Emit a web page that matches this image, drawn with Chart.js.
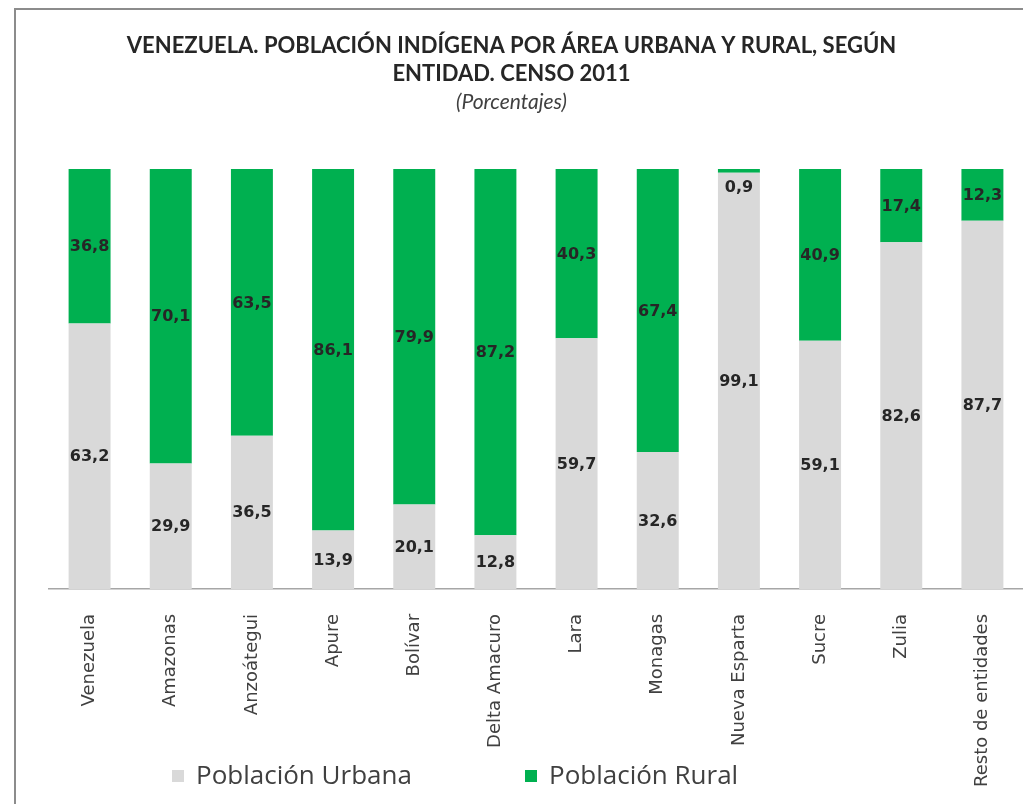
<!DOCTYPE html>
<html>
<head>
<meta charset="utf-8">
<script src="https://cdn.jsdelivr.net/npm/chart.js@4.4.0/dist/chart.umd.min.js"></script>
<style>
    body { margin: 0; background: #ffffff; }
    .frame { position: absolute; left: 14px; top: 8px; width: 1023px; height: 800px;
             border-left: 2px solid #8c8c8c; border-top: 2px solid #8c8c8c; }
    .wrap { position: absolute; left: 0; top: 0; width: 1023px; height: 804px; }
    .legend { position: absolute; top: 756px; left: 0; width: 1023px; height: 34px;
              font-family: "Open Sans", sans-serif; font-size: 26px; color: #404040; }
    .legend span.item { position: absolute; top: 0; white-space: nowrap; }
    .legend span.box { display: inline-block; width: 12px; height: 12px; margin-right: 12px;
                       vertical-align: 2px; }
</style>
</head>
<body>
<div class="frame"></div>
<div class="wrap"><canvas id="graph"></canvas></div>
<div class="legend" id="legend"></div>
<script>
// Chart data: percentage of indigenous population by area, per entity
const entidades = ["Venezuela", "Amazonas", "Anzoátegui", "Apure", "Bolívar", "Delta Amacuro",
    "Lara", "Monagas", "Nueva Esparta", "Sucre", "Zulia", "Resto de entidades"];
const urbana = [63.2, 29.9, 36.5, 13.9, 20.1, 12.8, 59.7, 32.6, 99.1, 59.1, 82.6, 87.7];
const rural = [36.8, 70.1, 63.5, 86.1, 79.9, 87.2, 40.3, 67.4, 0.9, 40.9, 17.4, 12.3];
const seriesNames = ["Población Urbana", "Población Rural"];
const seriesColors = ["#d9d9d9", "#00b050"];

// Writes the value in the middle of each bar segment
const valueLabels = {
    id: "valueLabels",
    afterDatasetsDraw(chart) {
        let ctx = chart.ctx;
        let area = chart.chartArea;
        ctx.save();
        ctx.font = "bold 16px 'DejaVu Sans'";
        ctx.fillStyle = "#262626";
        ctx.textAlign = "center";
        ctx.textBaseline = "middle";
        chart.data.datasets.forEach((ds, i) => {
            chart.getDatasetMeta(i).data.forEach((bar, j) => {
                let y = (bar.y + bar.base) / 2;
                // keep labels of very thin segments inside the plot
                if (y < area.top + 18) y = area.top + 18;
                ctx.fillText(ds.data[j].toFixed(1).replace(".", ","), bar.x, y + 1);
            });
        });
        ctx.restore();
    }
};

let ctx = document.getElementById("graph");
ctx.width = 1023;
ctx.height = 804;

let chart = new Chart(ctx, {
    type: "bar",
    data: {
        labels: entidades,
        datasets: [{
            label: seriesNames[0],
            backgroundColor: seriesColors[0],
            data: urbana
        }, {
            label: seriesNames[1],
            backgroundColor: seriesColors[1],
            data: rural
        }]
    },
    options: {
        responsive: false,
        animation: false,
        layout: { padding: { left: 0, right: 0, top: 0, bottom: 0 } },
        plugins: {
            legend: { display: false },
            tooltip: { enabled: false },
            title: {
                display: true,
                text: ["VENEZUELA. POBLACIÓN INDÍGENA POR ÁREA URBANA Y RURAL, SEGÚN", "ENTIDAD. CENSO 2011"],
                color: "#262626",
                font: { family: "Lato", size: 22, weight: "bold", lineHeight: 1.27 },
                padding: { top: 32, bottom: 2 }
            },
            subtitle: {
                display: true,
                text: "(Porcentajes)",
                color: "#404040",
                font: { family: "Lato", size: 21, style: "italic" },
                padding: { top: 0, bottom: 54 }
            }
        },
        scales: {
            x: {
                stacked: true,
                grid: { display: false },
                border: { color: "#a6a6a6", width: 1.5 },
                ticks: {
                    color: "#404040",
                    font: { family: "DejaVu Sans", size: 18 },
                    minRotation: 90,
                    maxRotation: 90,
                    padding: 17,
                    autoSkip: false
                }
            },
            y: {
                stacked: true,
                min: 0,
                max: 100,
                grid: { display: false },
                border: { display: false },
                ticks: { display: false },
                // empty space on the left, like the original
                afterFit(axis) { axis.width = 49; }
            }
        },
        datasets: { bar: { barPercentage: 0.517, categoryPercentage: 1 } }
    },
    plugins: [valueLabels]
});

// Legend as html text, placed over the label area like in the original
let legend = document.getElementById("legend");
let legendLeft = [172, 525];
chart.data.datasets.forEach((ds, i) => {
    let item = document.createElement("span");
    item.setAttribute("class", "item");
    item.style.left = legendLeft[i] + "px";
    let box = document.createElement("span");
    box.setAttribute("class", "box");
    box.style.background = ds.backgroundColor;
    item.appendChild(box);
    item.appendChild(document.createTextNode(ds.label));
    legend.appendChild(item);
});
</script>
</body>
</html>
